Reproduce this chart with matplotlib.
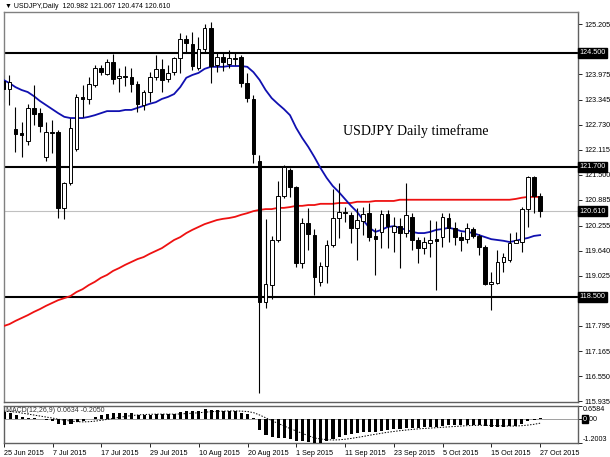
import matplotlib
matplotlib.use("Agg")
import matplotlib.pyplot as plt
from matplotlib.transforms import blended_transform_factory

# ---------------- data ----------------
dates = ["25 Jun 2015", "7 Jul 2015", "17 Jul 2015", "29 Jul 2015", "10 Aug 2015",
         "20 Aug 2015", "1 Sep 2015", "11 Sep 2015", "23 Sep 2015", "5 Oct 2015",
         "15 Oct 2015", "27 Oct 2015"]
date_bars = [0, 8, 16, 24, 32, 40, 48, 56, 64, 72, 80, 88]

opens = [123.80, 123.62, 122.63, 122.53, 122.34, 123.15, 123.02, 121.94, 122.56, 122.56,
         120.69, 121.30, 122.14, 123.42, 123.37, 123.71, 124.13, 123.98, 124.28, 123.89,
         123.93, 123.91, 123.74, 123.23, 123.54, 123.91, 124.11, 123.86, 124.03, 124.37,
         124.84, 124.72, 124.13, 124.60, 125.11, 124.20, 124.40, 124.23, 124.38, 124.40,
         123.76, 123.37, 121.84, 118.38, 118.80, 119.90, 120.98, 121.62, 121.20, 119.34,
         120.32, 120.02, 118.87, 119.26, 119.78, 120.44, 120.59, 120.52, 120.20, 120.37,
         120.57, 120.00, 120.10, 120.54, 120.10, 120.25, 120.07, 120.47, 119.90, 119.71,
         119.83, 119.92, 119.97, 120.44, 120.20, 119.98, 119.93, 120.17, 120.00, 119.73,
         118.82, 118.85, 119.36, 119.41, 119.83, 119.85, 120.66, 121.45, 120.982]
highs = [123.96, 123.96, 123.17, 122.80, 123.25, 123.71, 123.15, 122.80, 122.85, 122.60,
         121.33, 122.90, 123.50, 123.71, 123.91, 124.20, 124.20, 124.35, 124.48, 124.13,
         124.18, 124.13, 123.80, 123.59, 124.03, 124.45, 124.35, 124.20, 124.40, 124.99,
         124.94, 125.02, 124.90, 125.21, 125.26, 124.52, 124.52, 124.57, 124.50, 124.45,
         124.00, 123.47, 121.99, 120.42, 120.00, 121.35, 121.75, 121.67, 121.23, 120.44,
         120.69, 120.17, 119.36, 119.90, 121.16, 121.30, 120.71, 120.59, 120.69, 120.71,
         120.81, 120.20, 120.64, 120.64, 120.47, 120.44, 121.30, 120.57, 119.98, 119.98,
         120.39, 120.37, 120.57, 120.57, 120.34, 120.10, 120.32, 120.22, 120.05, 119.78,
         119.11, 119.66, 119.58, 120.07, 120.10, 120.71, 121.47, 121.47, 121.067]
lows = [123.30, 123.22, 122.07, 121.94, 122.24, 122.73, 122.56, 121.84, 122.04, 120.44,
        120.42, 121.25, 122.10, 122.92, 123.25, 123.66, 123.95, 123.96, 123.74, 123.54,
        123.69, 123.54, 123.05, 123.10, 123.30, 123.84, 123.54, 123.79, 123.96, 124.00,
        124.50, 124.08, 124.08, 124.52, 123.76, 124.03, 124.06, 124.13, 124.20, 123.66,
        123.30, 121.79, 116.14, 118.23, 118.45, 119.85, 120.93, 120.96, 119.24, 119.21,
        119.66, 118.55, 118.77, 118.84, 119.73, 119.95, 120.34, 119.83, 119.41, 120.02,
        119.88, 119.04, 119.71, 119.71, 119.61, 119.21, 119.97, 119.66, 119.34, 119.56,
        119.49, 118.67, 119.73, 119.85, 119.78, 119.63, 119.83, 119.95, 119.54, 118.79,
        118.18, 118.82, 119.11, 119.36, 119.83, 119.61, 120.22, 120.57, 120.474]
closes = [123.62, 123.79, 122.51, 122.48, 123.15, 123.00, 122.70, 122.56, 122.54, 120.69,
          121.30, 122.66, 123.42, 123.37, 123.74, 124.13, 124.03, 124.28, 123.86, 123.93,
          123.90, 123.74, 123.25, 123.54, 123.91, 124.11, 123.84, 124.01, 124.37, 124.84,
          124.75, 124.18, 124.60, 125.11, 124.18, 124.40, 124.28, 124.37, 124.35, 123.76,
          123.39, 122.02, 118.38, 118.82, 119.90, 120.98, 121.70, 121.20, 119.34, 120.32,
          120.05, 118.99, 119.26, 119.78, 120.44, 120.59, 120.57, 120.20, 120.39, 120.54,
          119.97, 119.93, 120.54, 120.25, 120.25, 120.07, 120.52, 119.90, 119.71, 119.85,
          119.90, 119.88, 120.47, 120.20, 119.97, 119.90, 120.20, 120.00, 119.73, 118.82,
          118.87, 119.36, 119.48, 119.83, 119.90, 120.66, 121.45, 120.98, 120.610]

ma_fast = [123.84, 123.76, 123.66, 123.59, 123.54, 123.44, 123.32, 123.22, 123.12, 123.02,
           122.93, 122.90, 122.90, 122.90, 122.93, 122.97, 123.02, 123.07, 123.07, 123.07,
           123.10, 123.10, 123.15, 123.20, 123.25, 123.29, 123.37, 123.42, 123.49, 123.66,
           123.89, 123.96, 124.01, 124.11, 124.16, 124.16, 124.16, 124.18, 124.18, 124.18,
           124.16, 124.03, 123.84, 123.59, 123.39, 123.25, 123.12, 122.97, 122.66, 122.41,
           122.19, 121.94, 121.67, 121.43, 121.23, 121.08, 120.91, 120.74, 120.59, 120.39,
           120.20, 120.10, 120.15, 120.22, 120.24, 120.20, 120.15, 120.10, 120.07, 120.07,
           120.10, 120.15, 120.17, 120.20, 120.17, 120.12, 120.10, 120.07, 120.02, 119.97,
           119.92, 119.90, 119.88, 119.85, 119.88, 119.92, 119.95, 120.00, 120.02]
ma_slow = [117.78, 117.83, 117.91, 117.98, 118.05, 118.13, 118.20, 118.28, 118.35, 118.42,
           118.47, 118.52, 118.62, 118.69, 118.79, 118.87, 118.97, 119.04, 119.14, 119.21,
           119.29, 119.36, 119.43, 119.48, 119.56, 119.63, 119.70, 119.80, 119.90, 119.97,
           120.07, 120.15, 120.22, 120.29, 120.34, 120.39, 120.42, 120.44, 120.47, 120.52,
           120.56, 120.61, 120.64, 120.66, 120.66, 120.69, 120.69, 120.71, 120.74, 120.74,
           120.76, 120.76, 120.79, 120.79, 120.79, 120.81, 120.81, 120.81, 120.84, 120.84,
           120.84, 120.86, 120.86, 120.86, 120.86, 120.89, 120.89, 120.89, 120.89, 120.89,
           120.89, 120.89, 120.89, 120.89, 120.89, 120.89, 120.89, 120.89, 120.89, 120.89,
           120.89, 120.89, 120.89, 120.89, 120.91, 120.94, 120.96, 120.96, 120.96]

macd_main = [0.35, 0.33, 0.22, 0.12, 0.08, 0.04, -0.01, -0.06, -0.10, -0.25,
             -0.32, -0.27, -0.17, -0.08, 0.02, 0.12, 0.20, 0.27, 0.29, 0.31,
             0.31, 0.29, 0.23, 0.21, 0.22, 0.25, 0.24, 0.25, 0.28, 0.35,
             0.40, 0.39, 0.42, 0.49, 0.45, 0.44, 0.42, 0.41, 0.39, 0.33,
             0.25, 0.06, -0.56, -0.78, -0.90, -0.95, -0.95, -0.98, -1.10, -1.12,
             -1.15, -1.20, -1.18, -1.12, -1.00, -0.90, -0.82, -0.77, -0.72, -0.66,
             -0.65, -0.63, -0.58, -0.55, -0.52, -0.50, -0.45, -0.44, -0.43, -0.41,
             -0.39, -0.38, -0.33, -0.31, -0.31, -0.31, -0.29, -0.28, -0.29, -0.36,
             -0.42, -0.42, -0.41, -0.37, -0.33, -0.25, -0.12, -0.05, 0.0634]
macd_signal = [0.40, 0.38, 0.35, 0.30, 0.25, 0.20, 0.15, 0.10, 0.05, -0.01,
               -0.06, -0.10, -0.13, -0.14, -0.13, -0.10, -0.06, -0.01, 0.04, 0.09,
               0.14, 0.18, 0.21, 0.23, 0.24, 0.25, 0.25, 0.25, 0.25, 0.26,
               0.28, 0.30, 0.32, 0.35, 0.37, 0.39, 0.40, 0.41, 0.41, 0.40,
               0.38, 0.32, 0.20, 0.06, -0.08, -0.22, -0.35, -0.48, -0.60, -0.72,
               -0.84, -0.95, -1.00, -1.03, -1.05, -1.04, -1.01, -0.97, -0.92, -0.87,
               -0.81, -0.76, -0.71, -0.66, -0.62, -0.58, -0.55, -0.52, -0.49, -0.47,
               -0.45, -0.43, -0.41, -0.39, -0.37, -0.35, -0.33, -0.32, -0.31, -0.31,
               -0.32, -0.33, -0.34, -0.35, -0.35, -0.33, -0.30, -0.26, -0.2050]

level_lines = [124.500, 121.700, 118.500]
bid_price = 120.610
price_ticks = [125.205, 124.590, 123.975, 123.345, 122.730, 122.115, 121.500, 120.885,
               120.255, 119.640, 119.025, 118.410, 117.795, 117.165, 116.550, 115.935]
hidden_ticks = [124.590, 118.410]
macd_max, macd_min = 0.6584, -1.2003

header_text = "\u25BC USDJPY,Daily  120.982 121.067 120.474 120.610"
macd_text = "MACD(12,26,9) 0.0634 -0.2050"
note_text = "USDJPY Daily timeframe"

# ---------------- layout helpers ----------------
W, H = 610, 457
def rect(x0, y0, x1, y1):
    return [x0 / W, 1 - y1 / H, (x1 - x0) / W, (y1 - y0) / H]

PX_PER_BAR = 6.1
X0_BAR = 3.3
def xlim_for(left_px, right_px):
    return ((left_px - X0_BAR) / PX_PER_BAR, (right_px - X0_BAR) / PX_PER_BAR)

PX_PER_UNIT = 40.65
REF_PRICE, REF_Y = 124.5, 53.0
def price_at(y):
    return REF_PRICE - (y - REF_Y) / PX_PER_UNIT

FONT = ["Liberation Sans", "DejaVu Sans"]
plt.rcParams["font.family"] = FONT
FS = 5.2

fig = plt.figure(figsize=(6.1, 4.57), dpi=100)
fig.patch.set_facecolor("white")

L, R = 4, 578
TOP, BOT = 12, 402
ax = fig.add_axes(rect(L, TOP, R, BOT))
ax.set_xlim(*xlim_for(L, R))
ax.set_ylim(price_at(BOT), price_at(TOP))

n = len(closes)
xs = list(range(n))

for lv in level_lines:
    ax.axhline(lv, color="black", lw=1.5, zorder=2)
ax.axhline(bid_price, color="#c0c0c0", lw=0.8, zorder=1)

ax.plot(xs, ma_slow, color="#ee1111", lw=1.3, zorder=3)
ax.plot(xs, ma_fast, color="#1010b0", lw=1.3, zorder=3)

body_w = 0.6
for i in xs:
    o, h, l, c = opens[i], highs[i], lows[i], closes[i]
    ax.plot([i, i], [l, h], color="black", lw=0.8, zorder=4, solid_capstyle="butt")
    lo, hi = min(o, c), max(o, c)
    fc = "white" if c >= o else "black"
    ax.bar(i, max(hi - lo, 0.015), bottom=lo, width=body_w, color=fc,
           edgecolor="black", linewidth=0.7, zorder=5)

trans = blended_transform_factory(ax.transAxes, ax.transData)
ax.text((343 - L) / (R - L), price_at(131), note_text, transform=trans,
        family=["Liberation Serif", "DejaVu Serif"], fontsize=10, va="center", ha="left")

ax.set_xticks([])
ax.yaxis.tick_right()
ax.set_yticks(price_ticks)
ax.set_yticklabels(["" if v in hidden_ticks else f"{v:.3f}" for v in price_ticks])
ax.tick_params(axis="y", length=3, width=0.6, pad=1.5, labelsize=FS, colors="black")
for s in ["left", "top"]:
    ax.spines[s].set_color("#808080")
    ax.spines[s].set_linewidth(1.0)
for s in ["right", "bottom"]:
    ax.spines[s].set_color("#606060")
    ax.spines[s].set_linewidth(1.0)

for v in level_lines + [bid_price]:
    ax.text(1.0025, v, f"{v:.3f}", transform=trans, fontsize=FS, color="white",
            va="center", ha="left", zorder=10, clip_on=False,
            bbox=dict(boxstyle="square,pad=0.18", fc="black", ec="black"))

fig.text(5 / W, 1 - 7 / H, header_text, fontsize=5.0, va="center", ha="left", family=FONT)

# ---------------- MACD panel ----------------
MT, MB = 406, 443
mx = fig.add_axes(rect(L, MT, R, MB))
mx.set_xlim(*xlim_for(L, R))
mx.set_ylim(macd_min, macd_max)
mx.axhline(0, color="#909090", lw=0.6, zorder=1)
mx.bar(xs, macd_main, width=0.5, color="black", zorder=3)
mx.plot(xs, macd_signal, color="black", lw=0.7, linestyle=(0, (1.5, 1.5)), zorder=4)
mx.yaxis.tick_right()
mx.set_yticks([macd_max, 0.0, macd_min])
mx.set_yticklabels([])
mx.tick_params(axis="y", length=3, width=0.6)
mtrans = blended_transform_factory(mx.transAxes, mx.transData)
xl = 1 + 5 / (R - L)
mx.text(xl, macd_max, "0.6584", transform=mtrans, fontsize=FS, va="top", ha="left", clip_on=False)
mx.text(xl, 0.0, "0", transform=mtrans, fontsize=FS, va="center", ha="left", color="white",
        clip_on=False, bbox=dict(boxstyle="square,pad=0.12", fc="black", ec="black"))
mx.text(xl + 4 / (R - L), 0.0, ".00", transform=mtrans, fontsize=FS, va="center", ha="left", clip_on=False)
mx.text(xl, macd_min, "-1.2003", transform=mtrans, fontsize=FS, va="bottom", ha="left", clip_on=False)

mx.set_xticks(date_bars)
mx.set_xticklabels(dates)
mx.tick_params(axis="x", length=3, width=0.6, pad=2, labelsize=FS, direction="out")
for lab in mx.get_xticklabels():
    lab.set_horizontalalignment("left")
for s in mx.spines.values():
    s.set_color("#606060")
    s.set_linewidth(1.0)
mx.text(0.004, 0.97, macd_text, transform=mx.transAxes, fontsize=5.0, va="top", ha="left", color="#333333")

fig.savefig("out.png", dpi=100)
